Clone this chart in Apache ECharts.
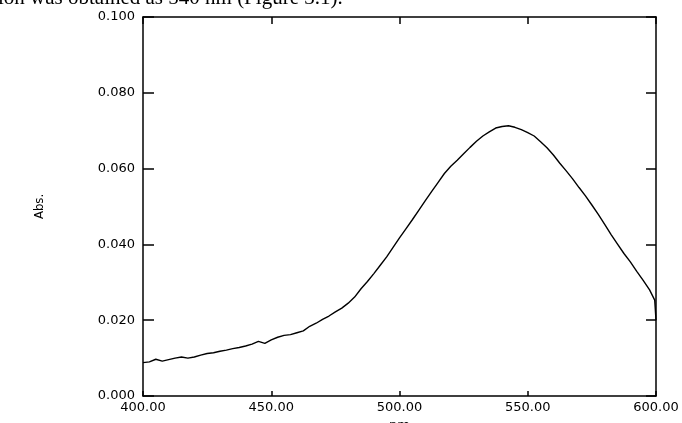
<!DOCTYPE html>
<html>
<head>
<meta charset="utf-8">
<script src="https://cdn.jsdelivr.net/npm/echarts@6/dist/echarts.min.js"></script>
<style>
html,body{margin:0;padding:0;background:#fff;}
#chart{width:682px;height:423px;}
</style>
</head>
<body>
<div id="chart"></div>
<script>
const wavelengths = [400,402.5,405,407.5,410,412.5,415,417.5,420,422.5,425,427.5,430,432.5,435,437.5,440,442.5,445,447.5,450,452.5,455,457.5,460,462.5,465,467.5,470,472.5,475,477.5,480,482.5,485,487.5,490,492.5,495,497.5,500,502.5,505,507.5,510,512.5,515,517.5,520,522.5,525,527.5,530,532.5,535,537.5,540,542.5,545,547.5,550,552.5,555,557.5,560,562.5,565,567.5,570,572.5,575,577.5,580,582.5,585,587.5,590,592.5,595,597.5,599.5,600];
const absorbance = [0.0088,0.0090,0.0097,0.0092,0.0096,0.0100,0.0103,0.0100,0.0103,0.0108,0.0112,0.0114,0.0118,0.0121,0.0125,0.0128,0.0132,0.0137,0.0144,0.0139,0.0148,0.0155,0.0160,0.0162,0.0167,0.0172,0.0184,0.0192,0.0202,0.0211,0.0222,0.0232,0.0245,0.0261,0.0283,0.0302,0.0323,0.0345,0.0367,0.0392,0.0417,0.0441,0.0465,0.0490,0.0515,0.0539,0.0563,0.0587,0.0606,0.0622,0.0639,0.0656,0.0672,0.0686,0.0697,0.0707,0.0711,0.0713,0.0709,0.0703,0.0695,0.0686,0.0671,0.0655,0.0636,0.0614,0.0594,0.0573,0.0550,0.0528,0.0504,0.0479,0.0453,0.0426,0.0401,0.0376,0.0354,0.0329,0.0305,0.0280,0.0253,0.0200];
const xTicks = {min:400, max:600, interval:50};
const yTicks = {min:0, max:0.1, interval:0.02};
const xName = 'nm';
const yName = 'Abs.';
const captionText = 'ion was obtained as 540 nm (Figure 3.1).';

const seriesData = wavelengths.map((w, i) => [w, absorbance[i]]);
const labelFont = {fontFamily:'DejaVu Sans', fontSize:13, color:'#000'};
const lineStyle = {color:'#000', width:1.5};

const chart = echarts.init(document.getElementById('chart'), null, {renderer:'canvas'});
chart.setOption({
  animation:false,
  backgroundColor:'#fff',
  grid:{left:143, right:26, top:17, bottom:27, containLabel:false, outerBoundsMode:'none'},
  graphic:[{
    type:'text', left:-2, top:-12,
    style:{text:captionText, font:'21px "Liberation Serif"', fill:'#000'}
  }],
  xAxis:[{
    type:'value', position:'bottom', min:xTicks.min, max:xTicks.max, interval:xTicks.interval,
    axisLine:{show:true, onZero:false, lineStyle:lineStyle},
    axisTick:{show:true, inside:true, length:5, lineStyle:lineStyle},
    axisLabel:Object.assign({margin:5, formatter:v => v.toFixed(2)}, labelFont),
    splitLine:{show:false},
    name:xName, nameLocation:'middle', nameGap:22,
    nameTextStyle:{fontFamily:'DejaVu Sans', fontSize:13, color:'#000'}
  },{
    type:'value', position:'top', min:xTicks.min, max:xTicks.max, interval:xTicks.interval,
    axisLine:{show:true, onZero:false, lineStyle:lineStyle},
    axisTick:{show:true, inside:true, length:7, lineStyle:lineStyle},
    axisLabel:{show:false}, splitLine:{show:false}
  }],
  yAxis:[{
    type:'value', position:'left', min:yTicks.min, max:yTicks.max, interval:yTicks.interval,
    axisLine:{show:true, onZero:false, lineStyle:lineStyle},
    axisTick:{show:true, inside:true, length:11, lineStyle:lineStyle},
    axisLabel:Object.assign({margin:8, formatter:v => v.toFixed(3)}, labelFont),
    splitLine:{show:false},
    name:yName, nameLocation:'middle', nameGap:97, nameRotate:90,
    nameTextStyle:{fontFamily:'DejaVu Sans Condensed', fontSize:13, color:'#000'}
  },{
    type:'value', position:'right', min:yTicks.min, max:yTicks.max, interval:yTicks.interval,
    axisLine:{show:true, onZero:false, lineStyle:lineStyle},
    axisTick:{show:true, inside:true, length:10, lineStyle:lineStyle},
    axisLabel:{show:false}, splitLine:{show:false}
  }],
  series:[{
    type:'line', xAxisIndex:0, yAxisIndex:0, data:seriesData,
    showSymbol:false, smooth:false,
    lineStyle:{color:'#000', width:1.4}
  }]
});
</script>
</body>
</html>
